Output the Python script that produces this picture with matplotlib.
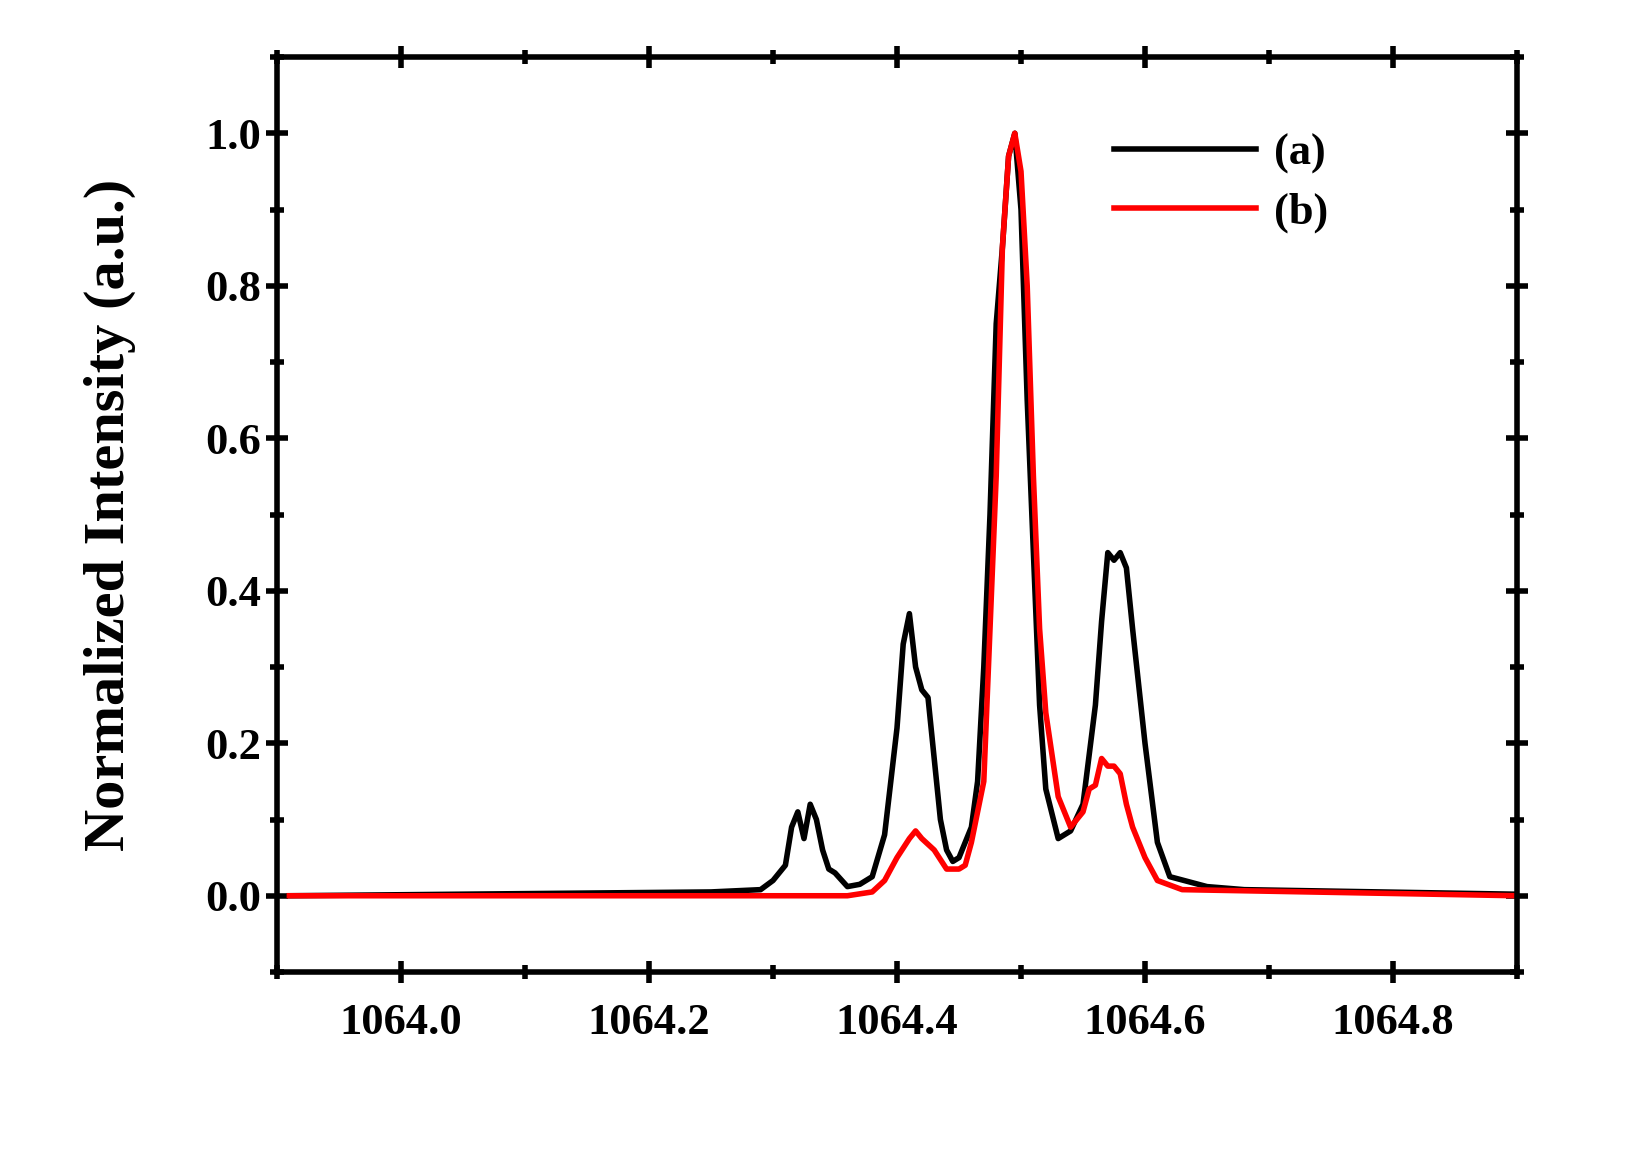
import matplotlib
matplotlib.use("Agg")
import matplotlib.pyplot as plt
from matplotlib.ticker import MultipleLocator, FormatStrFormatter

# wavelength (nm) / normalized intensity
x_a = [1063.91, 1064.25, 1064.29, 1064.30, 1064.31, 1064.315, 1064.32, 1064.325, 1064.33, 1064.335,
       1064.34, 1064.345, 1064.35, 1064.36, 1064.37, 1064.38, 1064.39, 1064.40, 1064.405, 1064.41,
       1064.415, 1064.42, 1064.425, 1064.43, 1064.435, 1064.44, 1064.445, 1064.45, 1064.455, 1064.46,
       1064.465, 1064.47, 1064.475, 1064.48, 1064.485, 1064.49, 1064.495, 1064.50, 1064.505, 1064.51,
       1064.515, 1064.52, 1064.53, 1064.54, 1064.55, 1064.56, 1064.565, 1064.57, 1064.575, 1064.58,
       1064.585, 1064.59, 1064.60, 1064.61, 1064.62, 1064.65, 1064.68, 1064.90]
y_a = [0.0, 0.005, 0.008, 0.02, 0.04, 0.09, 0.11, 0.075, 0.12, 0.10,
       0.06, 0.035, 0.03, 0.012, 0.015, 0.025, 0.08, 0.22, 0.33, 0.37,
       0.30, 0.27, 0.26, 0.18, 0.10, 0.06, 0.045, 0.05, 0.07, 0.09,
       0.15, 0.30, 0.50, 0.75, 0.85, 0.97, 1.0, 0.90, 0.65, 0.45,
       0.25, 0.14, 0.075, 0.085, 0.12, 0.25, 0.36, 0.45, 0.44, 0.45,
       0.43, 0.35, 0.20, 0.07, 0.025, 0.012, 0.008, 0.002]

x_b = [1063.91, 1064.36, 1064.38, 1064.39, 1064.40, 1064.41, 1064.415, 1064.42, 1064.43, 1064.44,
       1064.45, 1064.455, 1064.46, 1064.47, 1064.475, 1064.48, 1064.485, 1064.49, 1064.495, 1064.50,
       1064.505, 1064.51, 1064.515, 1064.52, 1064.53, 1064.54, 1064.55, 1064.555, 1064.56, 1064.565,
       1064.57, 1064.575, 1064.58, 1064.585, 1064.59, 1064.60, 1064.61, 1064.63, 1064.90]
y_b = [0.0, 0.0, 0.005, 0.02, 0.05, 0.075, 0.085, 0.075, 0.06, 0.035,
       0.035, 0.04, 0.07, 0.15, 0.35, 0.55, 0.85, 0.97, 1.0, 0.95,
       0.80, 0.55, 0.35, 0.24, 0.13, 0.09, 0.11, 0.14, 0.145, 0.18,
       0.17, 0.17, 0.16, 0.12, 0.09, 0.05, 0.02, 0.008, 0.0]

plt.rcParams["font.family"] = "Liberation Serif"
plt.rcParams["font.weight"] = "bold"

fig = plt.figure(figsize=(16.29, 11.52), dpi=100)
ax = fig.add_axes([277 / 1629, 1 - 972 / 1152, 1240 / 1629, 915 / 1152])

ax.plot(x_a, y_a, color="black", lw=4, label="(a)")
ax.plot(x_b, y_b, color="red", lw=4, label="(b)")

ax.set_xlim(1063.9, 1064.9)
ax.set_ylim(-0.1, 1.1)
ax.xaxis.set_major_locator(MultipleLocator(0.2))
ax.xaxis.set_minor_locator(MultipleLocator(0.1))
ax.xaxis.set_major_formatter(FormatStrFormatter("%.1f"))
ax.yaxis.set_major_locator(MultipleLocator(0.2))
ax.yaxis.set_minor_locator(MultipleLocator(0.1))
ax.yaxis.set_major_formatter(FormatStrFormatter("%.1f"))
ax.tick_params(which="both", direction="inout", top=True, right=True, width=4, labelsize=32)
ax.tick_params(which="major", length=16)
ax.tick_params(which="minor", length=10)
ax.tick_params(axis="x", pad=14)
for s in ax.spines.values():
    s.set_linewidth(4)
ax.set_ylabel("Normalized Intensity (a.u.)", fontsize=42, fontweight="bold", labelpad=50)

ax.legend(loc="upper right", bbox_to_anchor=(0.88, 0.96), frameon=False, fontsize=32,
          handlelength=3.2, handletextpad=0.4, labelspacing=0.4)

fig.savefig("out.png", dpi=100)
